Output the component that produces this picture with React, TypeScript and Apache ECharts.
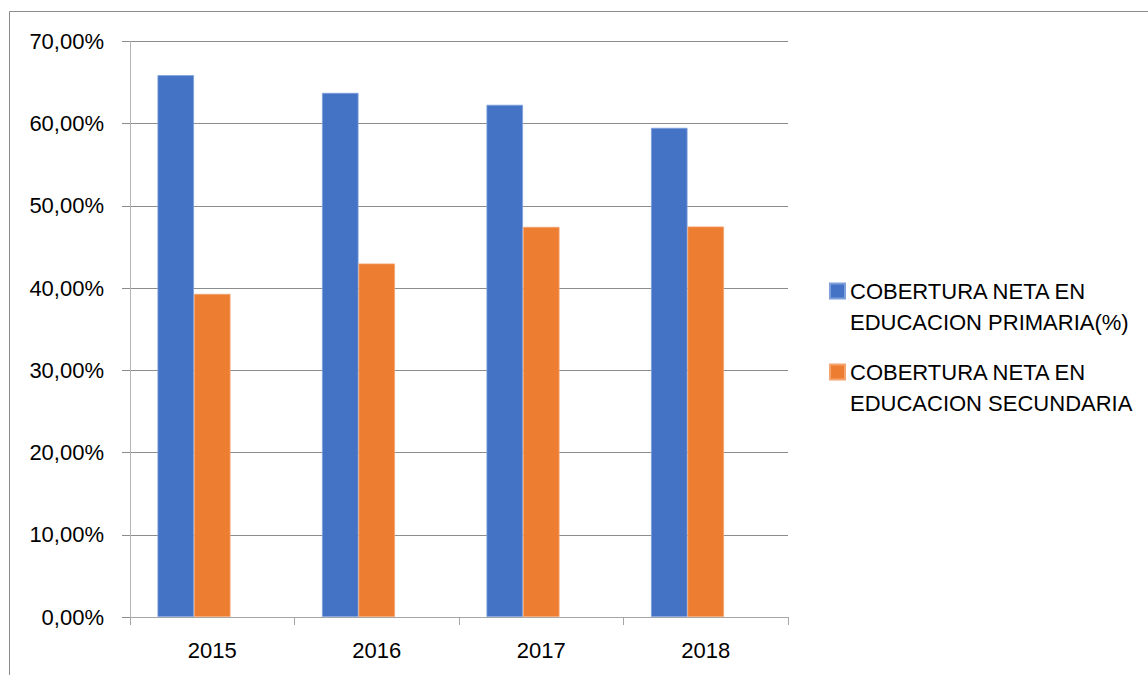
import React, { useEffect, useRef } from "react";
import * as echarts from "echarts";

const years = ["2015", "2016", "2017", "2018"];
const primaria = [65.9, 63.75, 62.3, 59.5];
const secundaria = [39.3, 43.0, 47.45, 47.5];
const emptySlot = ["-", "-", "-", "-"];
const seriesNames = [
  "COBERTURA NETA EN\nEDUCACION PRIMARIA(%)",
  "COBERTURA NETA EN\nEDUCACION SECUNDARIA",
];
const FONT = "'Liberation Sans', Arial, sans-serif";

export default function App() {
  const ref = useRef<HTMLDivElement>(null);
  useEffect(() => {
    const chart = echarts.init(ref.current!, null, { renderer: "svg" });
    chart.setOption({
      animation: false,
      backgroundColor: "#ffffff",
      textStyle: { fontFamily: FONT },
      grid: { left: 130, right: 360, top: 41.5, bottom: 58 },
      legend: {
        data: seriesNames,
        orient: "vertical",
        left: 829,
        top: 244.5,
        padding: 0,
        itemWidth: 15,
        itemHeight: 15,
        itemGap: -12,
        icon: "rect",
        selectedMode: false,
        formatter: (name: string) => "\n" + name,
        textStyle: {
          fontFamily: FONT,
          fontSize: 22,
          color: "#000",
          lineHeight: 31,
        },
      },
      xAxis: {
        type: "category",
        data: years,
        axisLine: { show: true, lineStyle: { color: "#a6a6a6", width: 1 } },
        axisTick: { show: true, length: 8, lineStyle: { color: "#a6a6a6" } },
        axisLabel: { fontSize: 22, color: "#000", margin: 22, fontFamily: FONT },
      },
      yAxis: {
        type: "value",
        min: 0,
        max: 70,
        interval: 10,
        axisLine: { show: true, lineStyle: { color: "#b5b5b5", width: 1 } },
        axisTick: { show: true, length: 8, lineStyle: { color: "#8c8c8c" } },
        splitLine: { show: true, lineStyle: { color: "#8c8c8c", width: 1 } },
        axisLabel: {
          fontSize: 22,
          color: "#000",
          margin: 26,
          fontFamily: FONT,
          formatter: (v: number) => v.toFixed(2).replace(".", ",") + "%",
        },
      },
      series: [
        {
          name: seriesNames[0],
          type: "bar",
          data: primaria,
          barWidth: 36.5,
          barGap: "0%",
          itemStyle: { color: "#4472C4", borderColor: "#7d9fdc", borderWidth: 0.8 },
        },
        {
          name: seriesNames[1],
          type: "bar",
          data: secundaria,
          barWidth: 36.5,
          barGap: "0%",
          itemStyle: { color: "#ED7D31", borderColor: "#f4a56f", borderWidth: 0.8 },
        },
        {
          name: "",
          type: "bar",
          data: emptySlot,
          barWidth: 36.5,
          barGap: "0%",
          itemStyle: { color: "transparent" },
        },
      ],
      graphic: [
        {
          type: "line",
          shape: { x1: 9.5, y1: 11.5, x2: 1148, y2: 11.5 },
          style: { stroke: "#8c8c8c", lineWidth: 1 },
        },
        {
          type: "line",
          shape: { x1: 9.5, y1: 11.5, x2: 9.5, y2: 675 },
          style: { stroke: "#8c8c8c", lineWidth: 1 },
        },
      ],
    });
    return () => chart.dispose();
  }, []);
  return (
    <div
      ref={ref}
      style={{ position: "fixed", left: 0, top: 0, width: 1148, height: 675 }}
    />
  );
}
